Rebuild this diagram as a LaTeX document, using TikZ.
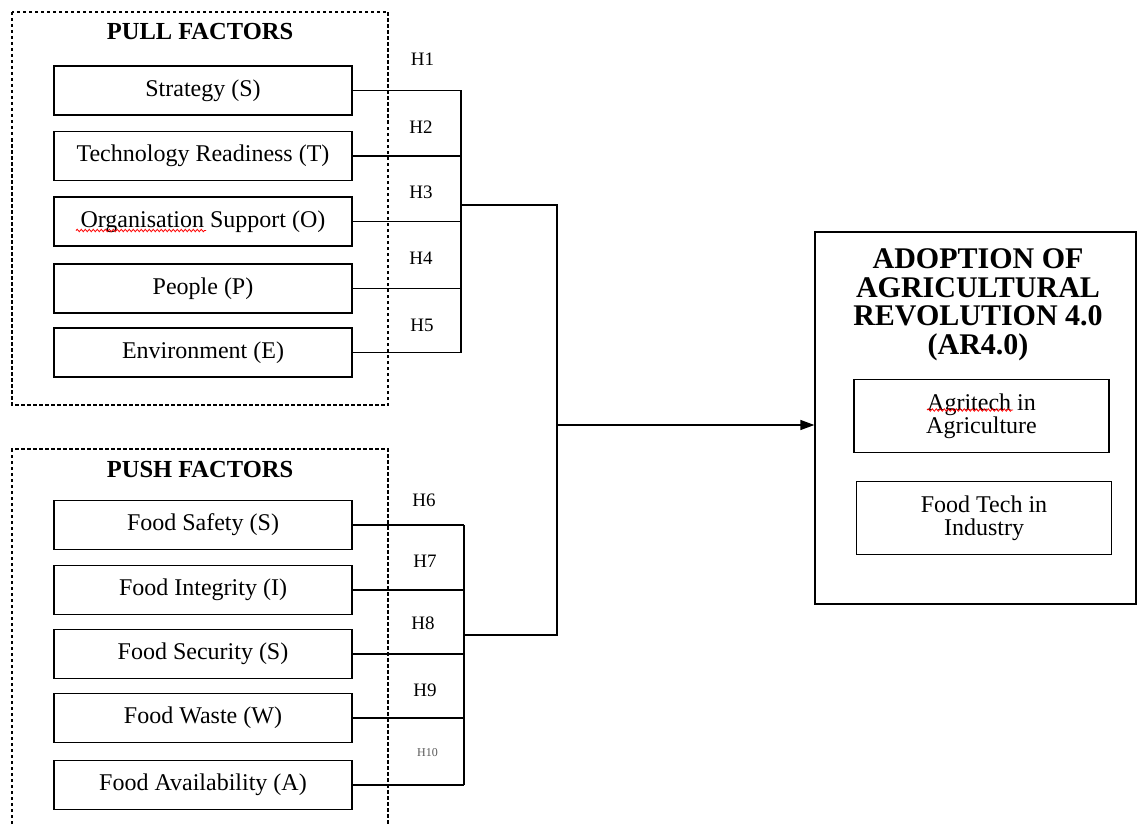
\documentclass[tikz,border=0pt]{standalone}
\usepackage{fontspec}
\setmainfont{Liberation Serif}
\usepackage{tikz}
\usetikzlibrary{arrows.meta, positioning, calc, decorations.pathmorphing}

\begin{document}
\begin{tikzpicture}[
    x=1pt,
    y=-1pt,
    factor/.style={rectangle, draw, line width=1.3pt, minimum width=298pt,
                   minimum height=49pt, inner sep=0pt,
                   font=\fontsize{24}{26}\selectfont},
    frame/.style={draw, line width=1.1pt, dash pattern=on 3.5pt off 2.5pt},
    heading/.style={font=\fontsize{24.5}{26}\selectfont\bfseries},
    hyp/.style={font=\fontsize{19}{21}\selectfont, inner sep=0pt},
    link/.style={line width=1.3pt},
    arrow/.style={-{Triangle[length=14pt, width=10pt]}, line width=1.3pt},
    tech/.style={rectangle, draw, line width=1.3pt, minimum width=255pt,
                 minimum height=73pt, align=center, inner sep=0pt,
                 font=\fontsize{24}{23}\selectfont},
    spell/.style={draw=red, line width=0.8pt, decorate,
                  decoration={snake, amplitude=1.2pt, segment length=4pt}},
]
\useasboundingbox (0,0) rectangle (1137,824);

% pull factors
\draw[frame] (12,12) rectangle (388,405);
\node[heading] (pull) at (200,32) {PULL FACTORS};
\node[factor] (strat) at (203,90.5)  {Strategy (S)};
\node[factor] (tech)  at (203,156)   {Technology Readiness (T)};
\node[factor] (org)   at (203,221.5) {Organisation Support (O)};
\node[factor] (peop)  at (203,288.5) {People (P)};
\node[factor] (env)   at (203,352.5) {Environment (E)};
\draw[spell] ($(org.center)+(-127,9)$) -- ++(130,0);

% push factors
\draw[frame] (12,824) |- (388,449) -- (388,824);
\node[heading] (push) at (200,469.5) {PUSH FACTORS};
\node[factor] (safe)  at (203,525) {Food Safety (S)};
\node[factor] (integ) at (203,590) {Food Integrity (I)};
\node[factor] (secur) at (203,654) {Food Security (S)};
\node[factor] (waste) at (203,718) {Food Waste (W)};
\node[factor] (avail) at (203,785) {Food Availability (A)};

% hypotheses
\node[hyp] (h1) at (422.5,59)  {H1};
\node[hyp] (h2) at (421,127)   {H2};
\node[hyp] (h3) at (421,192.5) {H3};
\node[hyp] (h4) at (421,258)   {H4};
\node[hyp] (h5) at (422,325.5) {H5};
\node[hyp] (h6) at (424,500.5) {H6};
\node[hyp] (h7) at (425,561)   {H7};
\node[hyp] (h8) at (423,623)   {H8};
\node[hyp] (h9) at (425,690)   {H9};
\node[hyp, font=\fontsize{12}{14}\selectfont, text=black!65]
    (h10) at (427.5,752.5) {H10};

% adoption
\node[rectangle, draw, line width=1.3pt, minimum width=321pt,
      minimum height=372pt] (adopt) at (975.5,418) {};
\node[align=center, font=\fontsize{30}{28.5}\selectfont\bfseries]
    (adtitle) at (978,305) {ADOPTION OF\\AGRICULTURAL\\REVOLUTION 4.0\\(AR4.0)};
\node[tech] (agri) at (981.5,416) {Agritech in\\Agriculture};
\node[tech] (food) at (984,518)   {Food Tech in\\Industry};
\draw[spell] ($(agri.center)+(-54.5,-6)$) -- ++(86,0);

% connectors
\coordinate (pullbus)  at (461,0);
\coordinate (pushbus)  at (464,0);
\coordinate (pulljoin) at (461,205);
\coordinate (pushjoin) at (464,635);
\coordinate (merge)    at (557,425);

\draw[link] (strat.east) -- (strat.east -| pullbus);
\draw[link] (tech.east)  -- (tech.east -| pullbus);
\draw[link] (org.east)   -- (org.east -| pullbus);
\draw[link] (peop.east)  -- (peop.east -| pullbus);
\draw[link] (env.east)   -- (env.east -| pullbus);
\draw[link] (strat.east -| pullbus) -- (env.east -| pullbus);

\draw[link] (safe.east)  -- (safe.east -| pushbus);
\draw[link] (integ.east) -- (integ.east -| pushbus);
\draw[link] (secur.east) -- (secur.east -| pushbus);
\draw[link] (waste.east) -- (waste.east -| pushbus);
\draw[link] (avail.east) -- (avail.east -| pushbus);
\draw[link] (safe.east -| pushbus) -- (avail.east -| pushbus);

\draw[link] (pulljoin) -| (merge) |- (pushjoin);
\draw[arrow] (merge) -- (merge -| adopt.west);
\end{tikzpicture}
\end{document}
